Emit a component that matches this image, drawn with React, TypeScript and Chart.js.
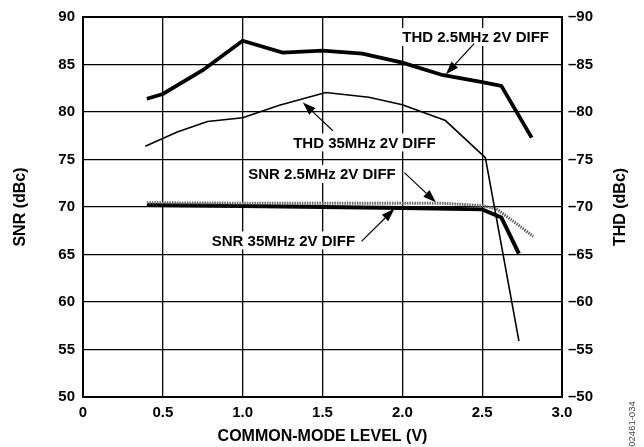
import { useEffect, useRef } from 'react';
import { Chart, registerables } from 'chart.js';

Chart.register(...registerables);

// ---- Data ----
const xTickValues = [0, 0.5, 1.0, 1.5, 2.0, 2.5, 3.0];
const snrTickValues = [50, 55, 60, 65, 70, 75, 80, 85, 90];
const thdTickValues = [-90, -85, -80, -75, -70, -65, -60, -55, -50];

const thd25X = [0.4, 0.5, 0.75, 1.0, 1.25, 1.5, 1.75, 2.0, 2.25, 2.5, 2.62, 2.81];
const thd25Y = [-81.4, -81.9, -84.4, -87.5, -86.25, -86.45, -86.15, -85.2, -83.9, -83.15, -82.75, -77.3];

const thd35X = [0.39, 0.59, 0.78, 1.0, 1.23, 1.52, 1.79, 2.0, 2.27, 2.52, 2.73];
const thd35Y = [-76.4, -77.9, -79.0, -79.4, -80.7, -82.05, -81.55, -80.76, -79.1, -75.2, -55.9];

const snr25X = [0.4, 1.0, 1.5, 2.0, 2.25, 2.5, 2.59, 2.73, 2.82];
const snr25Y = [70.45, 70.4, 70.4, 70.4, 70.4, 70.15, 69.8, 68.05, 66.9];

const snr35X = [0.4, 1.0, 1.5, 2.0, 2.5, 2.62, 2.73];
const snr35Y = [70.2, 70.1, 70.0, 69.9, 69.75, 68.9, 65.1];

const xTitle = 'COMMON-MODE LEVEL (V)';
const yLeftTitle = 'SNR (dBc)';
const yRightTitle = 'THD (dBc)';
const figureId = '02461-034';

// Callout labels (text anchor and arrow given in data units of x / SNR axis)
const callouts = [
  { text: 'THD 2.5MHz 2V DIFF', lx: 2.459, ly: 87.9, fx: 2.45, fy: 87.2, tx: 2.273, ty: 83.98 },
  { text: 'THD 35MHz 2V DIFF', lx: 1.7625, ly: 76.8, fx: 1.565, fy: 78.03, tx: 1.377, ty: 81.0 },
  { text: 'SNR 2.5MHz 2V DIFF', lx: 1.497, ly: 73.48, fx: 2.0125, fy: 73.62, tx: 2.21, ty: 70.5 },
  { text: 'SNR 35MHz 2V DIFF', lx: 1.255, ly: 66.48, fx: 1.744, fy: 66.38, tx: 1.95, ty: 69.81 },
];

const FONT = '"Liberation Sans", Arial, Helvetica, sans-serif';

const pts = (xs: number[], ys: number[]) => xs.map((x, i) => ({ x, y: ys[i] }));

const framePlugin = {
  id: 'frame',
  beforeDatasetsDraw(chart: any) {
    const { ctx, chartArea: a } = chart;
    ctx.save();
    ctx.strokeStyle = '#000';
    ctx.lineWidth = 2;
    ctx.strokeRect(a.left, a.top, a.right - a.left, a.bottom - a.top);
    ctx.restore();
  },
};

const calloutPlugin = {
  id: 'callouts',
  afterDatasetsDraw(chart: any) {
    const { ctx } = chart;
    const xs = chart.scales.x;
    const ys = chart.scales.y;
    ctx.save();
    ctx.font = `bold 15px ${FONT}`;
    ctx.textAlign = 'center';
    ctx.textBaseline = 'middle';
    for (const c of callouts) {
      const px = xs.getPixelForValue(c.lx);
      const py = ys.getPixelForValue(c.ly);
      const w = ctx.measureText(c.text).width;
      ctx.fillStyle = '#fff';
      ctx.fillRect(px - w / 2 - 3, py - 9, w + 6, 18);
      ctx.fillStyle = '#000';
      ctx.fillText(c.text, px, py + 1);

      const x1 = xs.getPixelForValue(c.fx);
      const y1 = ys.getPixelForValue(c.fy);
      const x2 = xs.getPixelForValue(c.tx);
      const y2 = ys.getPixelForValue(c.ty);
      const ang = Math.atan2(y2 - y1, x2 - x1);
      const L = 13;
      const W = 4.5;
      const bx = x2 - L * Math.cos(ang);
      const by = y2 - L * Math.sin(ang);
      ctx.strokeStyle = '#000';
      ctx.lineWidth = 1.2;
      ctx.beginPath();
      ctx.moveTo(x1, y1);
      ctx.lineTo(bx, by);
      ctx.stroke();
      ctx.beginPath();
      ctx.moveTo(x2, y2);
      ctx.lineTo(bx + W * Math.sin(ang), by - W * Math.cos(ang));
      ctx.lineTo(bx - W * Math.sin(ang), by + W * Math.cos(ang));
      ctx.closePath();
      ctx.fill();
    }
    ctx.restore();
  },
};

const titlePlugin = {
  id: 'titles',
  afterDraw(chart: any) {
    const { ctx, chartArea: a } = chart;
    const cy = (a.top + a.bottom) / 2;
    const cx = (a.left + a.right) / 2;
    ctx.save();
    ctx.fillStyle = '#000';
    ctx.textAlign = 'center';
    ctx.textBaseline = 'middle';
    ctx.font = `bold 16px ${FONT}`;
    ctx.fillText(xTitle, cx, 437);

    ctx.save();
    ctx.translate(21, cy);
    ctx.rotate(-Math.PI / 2);
    ctx.fillText(yLeftTitle, 0, 0);
    ctx.restore();

    ctx.save();
    ctx.translate(621, cy);
    ctx.rotate(-Math.PI / 2);
    ctx.fillText(yRightTitle, 0, 0);
    ctx.restore();

    ctx.save();
    ctx.font = `9.5px ${FONT}`;
    ctx.fillStyle = '#444';
    ctx.translate(632, 424);
    ctx.rotate(-Math.PI / 2);
    ctx.fillText(figureId, 0, 0);
    ctx.restore();

    ctx.restore();
  },
};

export default function App() {
  const ref = useRef<HTMLCanvasElement | null>(null);

  useEffect(() => {
    if (!ref.current) return;
    const tickFont = { family: FONT, size: 15, weight: 'bold' as const };
    const chart = new Chart(ref.current, {
      type: 'line',
      data: {
        datasets: [
          {
            label: 'THD 2.5MHz 2V DIFF',
            data: pts(thd25X, thd25Y),
            yAxisID: 'y2',
            borderColor: '#000',
            borderWidth: 3.8,
            pointRadius: 0,
            tension: 0,
            fill: false,
          },
          {
            label: 'THD 35MHz 2V DIFF',
            data: pts(thd35X, thd35Y),
            yAxisID: 'y2',
            borderColor: '#000',
            borderWidth: 1.6,
            pointRadius: 0,
            tension: 0,
            fill: false,
          },
          {
            label: 'SNR 2.5MHz 2V DIFF',
            data: pts(snr25X, snr25Y),
            yAxisID: 'y',
            borderColor: '#666',
            borderWidth: 3,
            borderDash: [1.5, 1],
            pointRadius: 0,
            tension: 0,
            fill: false,
          },
          {
            label: 'SNR 35MHz 2V DIFF',
            data: pts(snr35X, snr35Y),
            yAxisID: 'y',
            borderColor: '#000',
            borderWidth: 4,
            pointRadius: 0,
            tension: 0,
            fill: false,
          },
        ],
      },
      options: {
        responsive: false,
        animation: false,
        events: [],
        layout: { padding: { top: 16, left: 0, right: 0, bottom: 0 } },
        plugins: { legend: { display: false }, tooltip: { enabled: false } },
        scales: {
          x: {
            type: 'linear',
            min: 0,
            max: 3,
            afterBuildTicks: (s: any) => {
              s.ticks = xTickValues.map((v) => ({ value: v }));
            },
            afterFit: (s: any) => {
              s.height = 50;
            },
            grid: { color: '#000', lineWidth: 1.3, drawTicks: false },
            border: { display: false },
            ticks: {
              color: '#000',
              font: tickFont,
              padding: 7,
              maxRotation: 0,
              callback: (v: any) => (Number(v) === 0 ? '0' : Number(v).toFixed(1)),
            },
          },
          y: {
            type: 'linear',
            position: 'left',
            min: 50,
            max: 90,
            afterBuildTicks: (s: any) => {
              s.ticks = snrTickValues.map((v) => ({ value: v }));
            },
            afterFit: (s: any) => {
              s.width = 83;
            },
            grid: { color: '#000', lineWidth: 1.3, drawTicks: false },
            border: { display: false },
            ticks: { color: '#000', font: tickFont, padding: 8, callback: (v: any) => String(v) },
          },
          y2: {
            type: 'linear',
            position: 'right',
            min: -90,
            max: -50,
            reverse: true,
            afterBuildTicks: (s: any) => {
              s.ticks = thdTickValues.map((v) => ({ value: v }));
            },
            afterFit: (s: any) => {
              s.width = 82;
            },
            grid: { display: false, drawTicks: false },
            border: { display: false },
            ticks: {
              color: '#000',
              font: tickFont,
              padding: 6,
              callback: (v: any) => '\u2013' + Math.abs(Number(v)),
            },
          },
        },
      },
      plugins: [framePlugin, calloutPlugin, titlePlugin],
    });
    return () => chart.destroy();
  }, []);

  return (
    <div style={{ position: 'absolute', left: 0, top: 0, width: 644, height: 447, background: '#fff' }}>
      <canvas ref={ref} width={644} height={447} style={{ display: 'block' }} />
    </div>
  );
}
